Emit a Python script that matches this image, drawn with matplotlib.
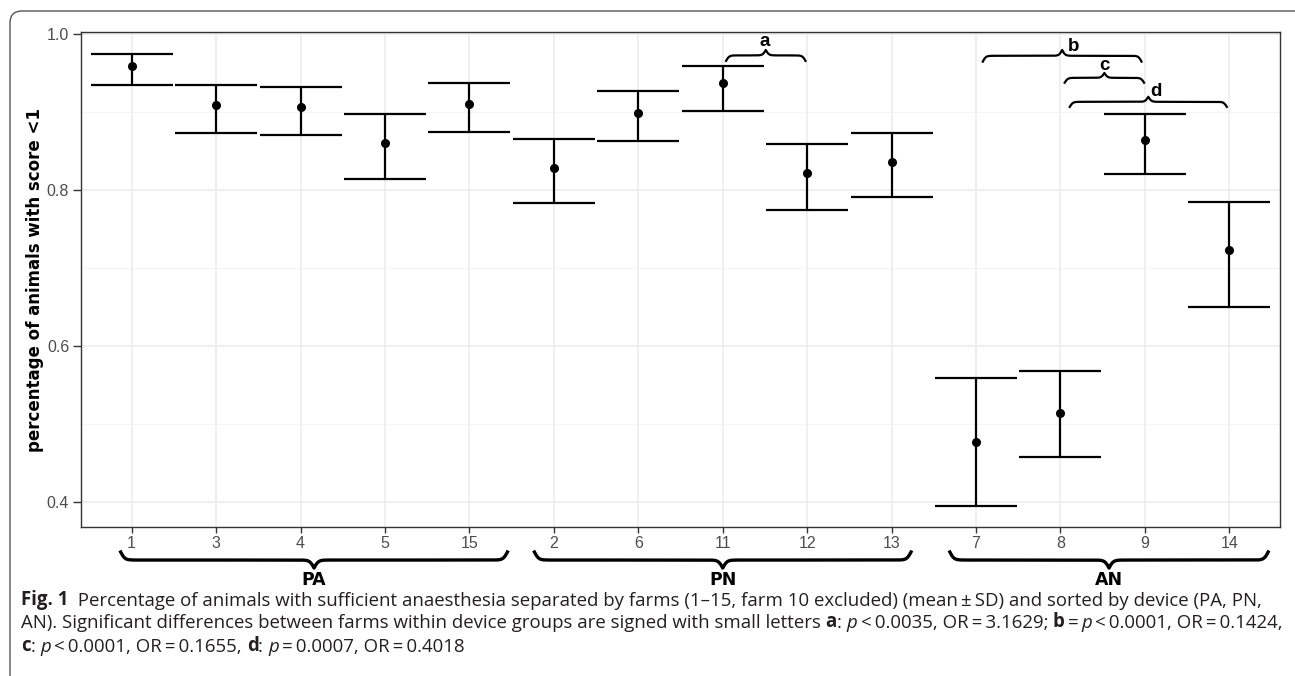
import numpy as np
import matplotlib.pyplot as plt
from matplotlib.patches import FancyBboxPatch
from matplotlib.transforms import blended_transform_factory

# farms sorted by device, mean +- SD
farms = ['1', '3', '4', '5', '15', '2', '6', '11', '12', '13', '7', '8', '9', '14']
means = [0.958, 0.908, 0.906, 0.860, 0.910, 0.828, 0.898, 0.936, 0.821, 0.835,
         0.477, 0.513, 0.863, 0.722]
upper = [0.974, 0.934, 0.932, 0.897, 0.937, 0.865, 0.926, 0.959, 0.858, 0.872,
         0.559, 0.568, 0.897, 0.784]
lower = [0.934, 0.873, 0.870, 0.814, 0.874, 0.783, 0.862, 0.901, 0.774, 0.791,
         0.395, 0.457, 0.820, 0.650]

groups = ['PA', 'PN', 'AN']
group_lo = [-0.13, 4.77, 9.69]      # brace extent under the axis (x units)
group_hi = [4.45, 9.23, 13.46]

# significance braces: start, end, base height, rise, label, label x, label y
sig = [(7.04, 7.98, 0.965, 0.014, 'a', 7.50, 0.990),
       (10.08, 11.96, 0.964, 0.015, 'b', 11.16, 0.984),
       (11.05, 11.99, 0.937, 0.0125, 'c', 11.52, 0.959),
       (11.11, 12.97, 0.906, 0.013, 'd', 12.13, 0.926)]

cap_font = 'Open Sans'
ts = '\u2009'


def brace(ax, x0, x1, y0, h, beta, **kw):
    """curly brace from x0 to x1, ends at y0, cusp at y0+h"""
    half = (x1 - x0) / 2
    t = np.linspace(0, half, 300)
    yh = 1 / (1 + np.exp(-beta * (t - t[0]))) + 1 / (1 + np.exp(-beta * (t - t[-1]))) - 0.5
    xs = np.concatenate([x0 + t, x0 + half + t])
    ys = np.concatenate([yh, yh[::-1]])
    ax.plot(xs, y0 + h * ys, **kw)


fig = plt.figure(figsize=(12.95, 6.76), dpi=100)

# background axes in pixel units for frame and caption
bg = fig.add_axes([0, 0, 1, 1], zorder=-1)
bg.set_xlim(0, 1295)
bg.set_ylim(676, 0)
bg.axis('off')
frame = FancyBboxPatch((10, 11), 1320, 700, boxstyle='round,pad=0,rounding_size=12',
                       fc='white', ec='#555555', lw=1.0)
bg.add_patch(frame)

ax = fig.add_axes([81 / 1295, 149 / 676, 1199 / 1295, 495 / 676])
x = np.arange(len(farms))
m = np.array(means)
ax.errorbar(x, m, yerr=[m - np.array(lower), np.array(upper) - m], fmt='o',
            color='black', ms=5.5, elinewidth=1.6, capsize=29.6, capthick=1.6, zorder=3)

ax.set_xlim(-0.6, 13.6)
ax.set_ylim(0.3675, 1.002)
ax.set_xticks(x)
ax.set_xticklabels(farms, family='Liberation Sans')
ax.set_yticks([0.4, 0.6, 0.8, 1.0])
ax.set_yticklabels(['0.4', '0.6', '0.8', '1.0'], family='Liberation Sans')
ax.set_yticks([0.5, 0.7, 0.9], minor=True)
ax.grid(which='major', color='#EBEBEB', lw=1.1)
ax.grid(which='minor', axis='y', color='#F2F2F2', lw=0.6)
ax.set_axisbelow(True)
ax.tick_params(which='major', width=1, color='#333333',
               labelcolor='#4D4D4D', labelsize=11.5)
ax.tick_params(axis='x', length=4, pad=2.5)
ax.tick_params(axis='y', length=5.5, pad=3)
ax.tick_params(which='minor', length=0)
for s in ax.spines.values():
    s.set_color('#333333')
    s.set_linewidth(1.0)
ax.set_ylabel('percentage of animals with score <1', fontweight='bold', fontsize=12)
ax.yaxis.set_label_coords(-0.031, 0.5)

for x0, x1, y0, h, lab, lx, ly in sig:
    brace(ax, x0, x1, y0, h, 55, color='black', lw=1.6, zorder=4)
    ax.text(lx, ly, lab, ha='center', va='center', fontsize=13.5,
            fontweight='bold', family='Liberation Sans')

trans = blended_transform_factory(ax.transData, ax.transAxes)
for g, lo, hi in zip(groups, group_lo, group_hi):
    brace(ax, lo, hi, -0.0505, -0.0325, 40, color='black', lw=2.4,
          transform=trans, clip_on=False)
    ax.text((lo + hi) / 2, -0.107, g, transform=trans, ha='center', va='center',
            fontsize=12.5, fontweight='bold')

# caption, pieces chained so styles can change inside a line
cap_size = 13.4
lines = [
    [('Fig. 1', 'bold', 'normal'),
     ('  Percentage of animals with sufficient anaesthesia separated by farms (1–15, farm 10 excluded) '
      '(mean' + ts + '±' + ts + 'SD) and sorted by device (PA, PN,', 'normal', 'normal')],
    [('AN). Significant differences between farms within device groups are signed with small letters ',
      'normal', 'normal'),
     ('a', 'bold', 'normal'), (': ', 'normal', 'normal'), ('p', 'normal', 'italic'),
     (ts + '<' + ts + '0.0035, OR' + ts + '=' + ts + '3.1629; ', 'normal', 'normal'),
     ('b', 'bold', 'normal'), (ts + '=' + ts, 'normal', 'normal'), ('p', 'normal', 'italic'),
     (ts + '<' + ts + '0.0001, OR' + ts + '=' + ts + '0.1424,', 'normal', 'normal')],
    [('c', 'bold', 'normal'), (': ', 'normal', 'normal'), ('p', 'normal', 'italic'),
     (ts + '<' + ts + '0.0001, OR' + ts + '=' + ts + '0.1655, ', 'normal', 'normal'),
     ('d', 'bold', 'normal'), (': ', 'normal', 'normal'), ('p', 'normal', 'italic'),
     (ts + '=' + ts + '0.0007, OR' + ts + '=' + ts + '0.4018', 'normal', 'normal')],
]
baselines = [605, 628, 651]
for pieces, yb in zip(lines, baselines):
    prev = None
    for txt, wt, st in pieces:
        kw = dict(fontsize=cap_size, fontweight=wt, fontstyle=st, family=cap_font,
                  color='#231F20', ha='left')
        if prev is None:
            prev = bg.text(21, yb, txt, va='baseline', **kw)
        else:
            prev = bg.annotate(txt, xy=(1, 0), xycoords=prev, annotation_clip=False,
                               va='bottom', **kw)

fig.savefig('out.png', dpi=100)
